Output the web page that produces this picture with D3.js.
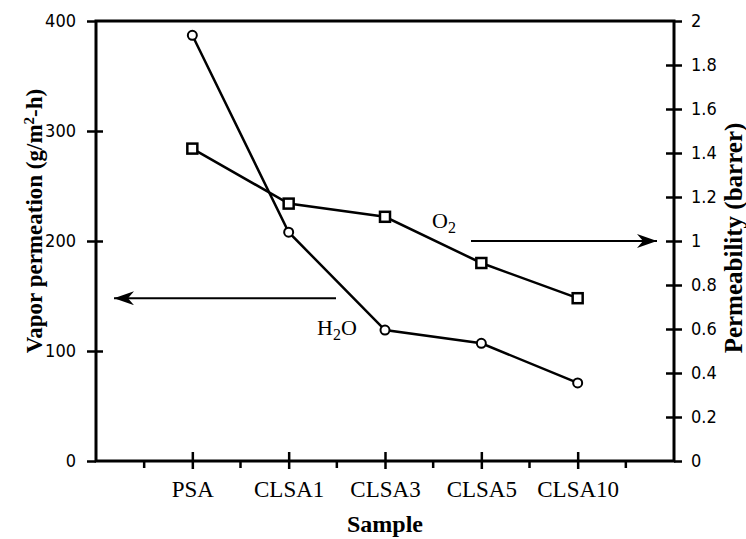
<!DOCTYPE html>
<html>
<head>
<meta charset="utf-8">
<script src="https://cdn.jsdelivr.net/npm/d3@7"></script>
<style>
  body { margin: 0; background: #fff; }
  svg text { fill: #000; }
</style>
</head>
<body>
<div id="chart"></div>
<script>
// Daten
const samples = ["PSA", "CLSA1", "CLSA3", "CLSA5", "CLSA10"];
const h2oValues = [387, 208, 119, 107, 71];        // Vapor permeation (g/m2-h), linke Achse
const o2Values = [1.42, 1.17, 1.11, 0.9, 0.74];     // Permeability (barrer), rechte Achse
const leftTicks = [0, 100, 200, 300, 400];
const rightTicks = [0, 0.2, 0.4, 0.6, 0.8, 1, 1.2, 1.4, 1.6, 1.8, 2];

const width = 746, height = 539;
const margin = { top: 21, right: 72, bottom: 78, left: 96 };

const svg = d3.select("#chart").append("svg")
    .attr("width", width)
    .attr("height", height);

const x = d3.scaleLinear().domain([0, samples.length + 1]).range([margin.left, width - margin.right]);
const yL = d3.scaleLinear().domain([0, 400]).range([height - margin.bottom, margin.top]);
const yR = d3.scaleLinear().domain([0, 2]).range([height - margin.bottom, margin.top]);

const tickFont = "'Liberation Sans Narrow', 'DejaVu Sans Condensed', sans-serif";
const serif = "'Liberation Serif', 'Times New Roman', serif";

// Pfeilspitze
const defs = svg.append("defs");
defs.append("marker")
    .attr("id", "arrow")
    .attr("viewBox", "0 0 20 14")
    .attr("refX", 20).attr("refY", 7)
    .attr("markerWidth", 20).attr("markerHeight", 14)
    .attr("markerUnits", "userSpaceOnUse")
    .attr("orient", "auto-start-reverse")
    .append("path")
    .attr("d", "M0,0 L20,7 L0,14 L6,7 Z")
    .attr("fill", "#000");

// Rahmen
const x0 = x.range()[0], x1 = x.range()[1], y0 = yL.range()[0], y1 = yL.range()[1];
svg.append("rect")
    .attr("x", x0).attr("y", y1)
    .attr("width", x1 - x0).attr("height", y0 - y1)
    .attr("fill", "none").attr("stroke", "#000").attr("stroke-width", 3);

// Linke Achse
const leftAxis = d3.axisLeft(yL).tickValues(leftTicks).tickSize(9).tickPadding(11);
const gL = svg.append("g").attr("transform", `translate(${x0},0)`).call(leftAxis);
gL.select(".domain").remove();
gL.selectAll(".tick line").attr("x2", -9).attr("x1", 7).attr("stroke-width", 2.5);
gL.selectAll(".tick").filter(d => d === 400 || d === 0).select("line").attr("x1", 0);
gL.selectAll("text").style("font-family", tickFont).style("font-size", "18px");

// Rechte Achse
const rightAxis = d3.axisRight(yR).tickValues(rightTicks).tickSize(8).tickPadding(9)
    .tickFormat(d => d3.format("~g")(d));
const gR = svg.append("g").attr("transform", `translate(${x1},0)`).call(rightAxis);
gR.select(".domain").remove();
gR.selectAll(".tick line").attr("x1", -8).attr("x2", 8).attr("stroke-width", 2.5);
gR.selectAll(".tick").filter(d => d === 2 || d === 0).select("line").attr("x1", 0);
gR.selectAll("text").style("font-family", tickFont).style("font-size", "18px");

// Untere Achse mit Zwischenstrichen
const minorX = d3.range(0.5, samples.length + 1, 0.5).filter(v => !Number.isInteger(v));
svg.append("g").selectAll("line.minor")
    .data(minorX).join("line")
    .attr("x1", d => x(d)).attr("x2", d => x(d))
    .attr("y1", y0).attr("y2", y0 + 7)
    .attr("stroke", "#000").attr("stroke-width", 2.5);

const bottomAxis = d3.axisBottom(x).tickValues(d3.range(1, samples.length + 1))
    .tickSize(8).tickPadding(12).tickFormat(d => samples[d - 1]);
const gB = svg.append("g").attr("transform", `translate(0,${y0})`).call(bottomAxis);
gB.select(".domain").remove();
gB.selectAll(".tick line").attr("y1", -9).attr("y2", 8).attr("stroke-width", 2.5);
gB.selectAll("text").style("font-family", serif).style("font-size", "23px");

// Achsentitel
svg.append("text")
    .attr("x", (x0 + x1) / 2).attr("y", 532)
    .attr("text-anchor", "middle")
    .style("font-family", serif).style("font-size", "24px").style("font-weight", "bold")
    .text("Sample");

const lt = svg.append("text")
    .attr("transform", `translate(42,221) rotate(-90)`)
    .attr("text-anchor", "middle")
    .style("font-family", serif).style("font-size", "23px").style("font-weight", "bold");
lt.append("tspan").text("Vapor permeation (g/m");
lt.append("tspan").attr("baseline-shift", "super").style("font-size", "15px").text("2");
lt.append("tspan").text("-h)");

svg.append("text")
    .attr("transform", `translate(742,238) rotate(-90)`)
    .attr("text-anchor", "middle")
    .style("font-family", serif).style("font-size", "25px").style("font-weight", "bold")
    .text("Permeability (barrer)");

// Linien
const lineL = d3.line().x((d, i) => x(i + 1)).y(d => yL(d));
const lineR = d3.line().x((d, i) => x(i + 1)).y(d => yR(d));

svg.append("path").datum(h2oValues)
    .attr("d", lineL).attr("fill", "none").attr("stroke", "#000").attr("stroke-width", 2.5);
svg.append("path").datum(o2Values)
    .attr("d", lineR).attr("fill", "none").attr("stroke", "#000").attr("stroke-width", 2.5);

// Marker
svg.append("g").selectAll("circle")
    .data(h2oValues).join("circle")
    .attr("cx", (d, i) => x(i + 1)).attr("cy", d => yL(d))
    .attr("r", 4.5)
    .attr("fill", "#fff").attr("stroke", "#000").attr("stroke-width", 2);

svg.append("g").selectAll("rect")
    .data(o2Values).join("rect")
    .attr("x", (d, i) => x(i + 1) - 5).attr("y", d => yR(d) - 5)
    .attr("width", 10).attr("height", 10)
    .attr("fill", "#fff").attr("stroke", "#000").attr("stroke-width", 2.5);

// Beschriftung der Reihen mit Pfeilen
svg.append("line")
    .attr("x1", 336).attr("x2", 114)
    .attr("y1", yL(148)).attr("y2", yL(148))
    .attr("stroke", "#000").attr("stroke-width", 2)
    .attr("marker-end", "url(#arrow)");

svg.append("line")
    .attr("x1", 471).attr("x2", 657)
    .attr("y1", yR(1)).attr("y2", yR(1))
    .attr("stroke", "#000").attr("stroke-width", 2)
    .attr("marker-end", "url(#arrow)");

const h2o = svg.append("text")
    .attr("x", 317).attr("y", 335)
    .style("font-family", serif).style("font-size", "22px");
h2o.append("tspan").text("H");
h2o.append("tspan").attr("baseline-shift", "-30%").style("font-size", "16px").text("2");
h2o.append("tspan").attr("baseline-shift", "0").text("O");

const o2 = svg.append("text")
    .attr("x", 432).attr("y", 228)
    .style("font-family", serif).style("font-size", "22px");
o2.append("tspan").text("O");
o2.append("tspan").attr("baseline-shift", "-30%").style("font-size", "16px").text("2");
</script>
</body>
</html>
